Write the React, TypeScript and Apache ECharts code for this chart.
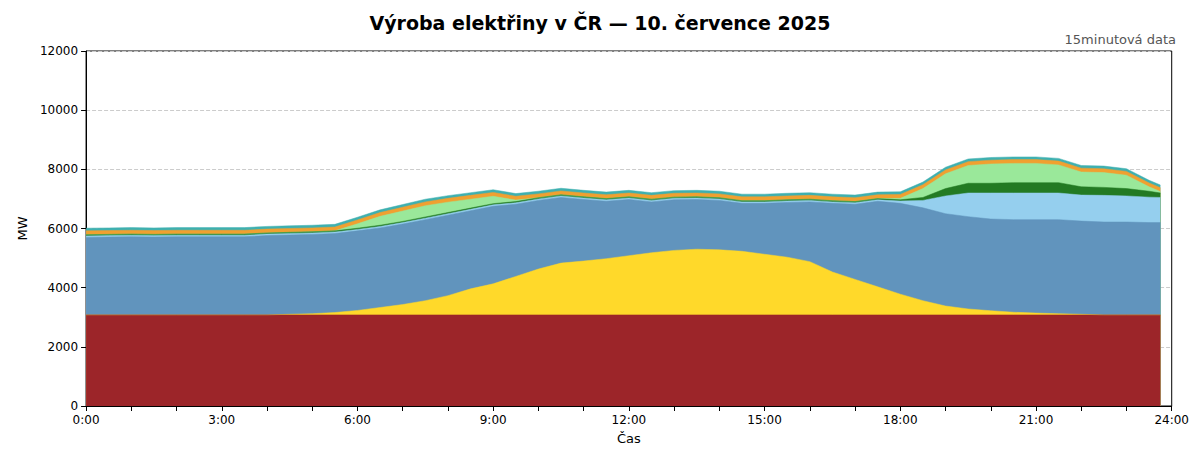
import React, { useEffect, useRef } from "react";
import * as echarts from "echarts";

const times = [
  0, 0.5, 1, 1.5, 2, 2.5, 3, 3.5, 4, 4.5, 5, 5.5, 6, 6.5, 7, 7.5, 8, 8.5, 9, 9.5, 10, 10.5, 11, 11.5,
  12, 12.5, 13, 13.5, 14, 14.5, 15, 15.5, 16, 16.5, 17, 17.5, 18, 18.5, 19, 19.5, 20, 20.5, 21, 21.5,
  22, 22.5, 23, 23.5, 23.75,
];

const nuclear = times.map(() => 3080);
const solar = [
  0, 0, 0, 0, 0, 0, 0, 0, 0, 20, 40, 80, 150, 250, 350, 480, 650, 880, 1050, 1300, 1550, 1750, 1820, 1900,
  2000, 2100, 2180, 2220, 2200, 2150, 2050, 1950, 1800, 1450, 1200, 950, 700, 480, 300, 200, 140, 90, 60, 40,
  20, 0, 0, 0, 0,
];
const coal = [
  2620, 2630, 2640, 2630, 2640, 2640, 2640, 2640, 2680, 2680, 2680, 2670, 2690, 2690, 2720, 2740, 2720, 2640,
  2620, 2440, 2320, 2220, 2080, 1940, 1900, 1720, 1710, 1680, 1670, 1620, 1720, 1850, 2020, 2320, 2540, 2890,
  3070, 3140, 3120, 3120, 3100, 3130, 3160, 3180, 3150, 3140, 3140, 3120, 3120,
];
const gas = [
  50, 50, 50, 50, 50, 50, 50, 50, 50, 50, 50, 50, 50, 50, 50, 50, 50, 50, 50, 50, 50, 50, 50, 50,
  50, 50, 50, 50, 50, 50, 50, 50, 50, 50, 50, 50, 80, 250, 600, 800, 880, 900, 900, 900, 880, 900, 880, 860, 850,
];
const pumped = [
  40, 40, 40, 40, 40, 40, 40, 40, 40, 40, 40, 40, 40, 40, 40, 40, 40, 40, 40, 40, 40, 40, 40, 40,
  40, 40, 40, 40, 40, 40, 40, 40, 40, 40, 40, 40, 40, 100, 250, 330, 330, 350, 350, 350, 280, 270, 250, 200, 150,
];
const hydro = [
  0, 0, 0, 0, 0, 0, 0, 0, 0, 0, 0, 0, 150, 300, 350, 380, 350, 300, 250, 50, 0, 0, 0, 0,
  0, 0, 0, 0, 0, 0, 0, 0, 0, 0, 0, 0, 50, 300, 500, 600, 650, 650, 650, 600, 500, 500, 450, 150, 50,
];
const biomass = times.map(() => 130);
const other = times.map(() => 90);

const layers = [
  { name: "Jádro", data: nuclear, color: "#9c2529" },
  { name: "Slunce", data: solar, color: "#ffd92a" },
  { name: "Uhlí", data: coal, color: "#6194bd" },
  { name: "Plyn", data: gas, color: "#95cfee" },
  { name: "Přečerpávací", data: pumped, color: "#237a23" },
  { name: "Voda", data: hydro, color: "#9ae89a" },
  { name: "Biomasa", data: biomass, color: "#f0a030" },
  { name: "Ostatní", data: other, color: "#3fb0b0" },
];

const fmt = (v: number) => `${Math.floor(v)}:${String(Math.round((v % 1) * 60)).padStart(2, "0")}`;

export default function App() {
  const ref = useRef<HTMLDivElement>(null);

  useEffect(() => {
    if (!ref.current) return;
    const chart = echarts.init(ref.current, null, { renderer: "svg" });

    // cumulative tops, drawn from the top layer down so lower layers cover higher ones
    const running = times.map(() => 0);
    const stacked = layers.map((l) => {
      const tops = l.data.map((v, i) => (running[i] += v));
      return { ...l, tops };
    });

    chart.setOption({
      animation: false,
      textStyle: { fontFamily: "DejaVu Sans" },
      title: {
        text: "Výroba elektřiny v ČR — 10. července 2025",
        left: "center",
        top: 0,
        textStyle: { fontSize: 19, fontWeight: "bold", color: "#000" },
      },
      graphic: [
        {
          type: "text",
          right: 16,
          top: 25,
          style: { text: "15minutová data", fontSize: 13, fill: "#555", fontFamily: "DejaVu Sans" },
        },
      ],
      grid: { left: 65, right: 16, top: 43, bottom: 56, show: true, borderColor: "#000", borderWidth: 1 },
      xAxis: {
        type: "value",
        min: 0,
        max: 24,
        interval: 3,
        name: "Čas",
        nameLocation: "middle",
        nameGap: 26,
        nameTextStyle: { fontSize: 13, color: "#000" },
        axisLine: { lineStyle: { color: "#000" } },
        axisTick: { lineStyle: { color: "#000" }, length: 5 },
        minorTick: { show: true, splitNumber: 3, length: 5, lineStyle: { color: "#000" } },
        axisLabel: { color: "#000", fontSize: 12, formatter: fmt },
        splitLine: { show: false },
      },
      yAxis: {
        type: "value",
        min: 0,
        max: 12000,
        interval: 2000,
        name: "MW",
        nameLocation: "middle",
        nameGap: 50,
        nameTextStyle: { fontSize: 13, color: "#000" },
        axisLine: { show: true, lineStyle: { color: "#000" } },
        axisTick: { show: true, lineStyle: { color: "#000" }, length: 5 },
        axisLabel: { color: "#000", fontSize: 12, formatter: (v: number) => String(v) },
        splitLine: { lineStyle: { color: "#ccc", type: "dashed" } },
      },
      series: stacked
        .slice()
        .reverse()
        .map((l) => ({
          name: l.name,
          type: "line",
          symbol: "none",
          lineStyle: { width: 0.5, color: l.color },
          areaStyle: { color: l.color, opacity: 1 },
          data: times.map((t, i) => [t, l.tops[i]]),
        })),
    });
    return () => chart.dispose();
  }, []);

  return <div ref={ref} style={{ width: 1184, height: 454 }} />;
}
